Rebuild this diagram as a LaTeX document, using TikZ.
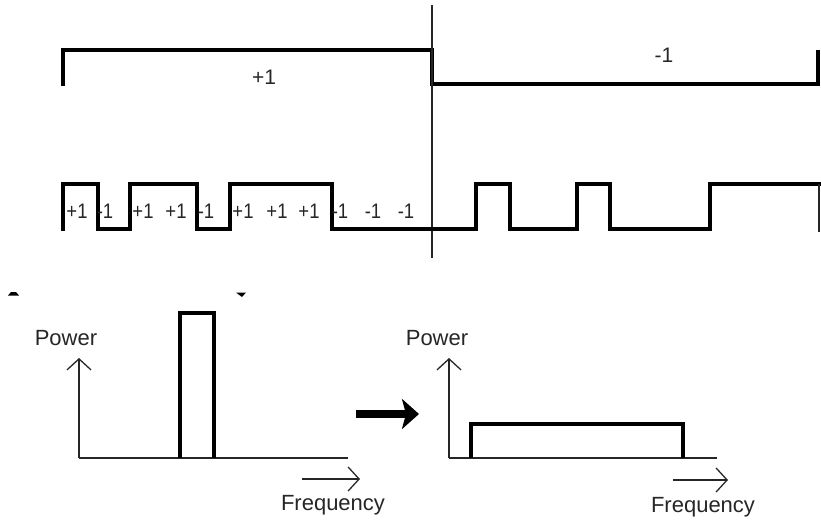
\documentclass[tikz,border=0pt]{standalone}
\usepackage{fontspec}
\setmainfont{Liberation Sans}
\usetikzlibrary{arrows.meta}
\definecolor{ink}{HTML}{262626}
\begin{document}
\begin{tikzpicture}[x=1pt,y=-1pt,
  wave/.style={line width=4pt, draw=black},
  thinline/.style={line width=1.3pt, draw=ink},
  axisarrow/.style={thinline, -{Straight Barb[length=11pt,width=24pt]}},
  bigarrow/.style={line width=8pt, draw=black, -{Stealth[length=17pt,width=30pt,inset=4pt]}},
  lbl/.style={font=\fontsize{21}{24}\selectfont, text=ink, inner sep=0pt},
  chip/.style={font=\fontsize{21}{24}\selectfont, text=ink, inner sep=0pt, xscale=0.88, transform shape},
  axlbl/.style={font=\fontsize{22}{26}\selectfont, text=ink, inner sep=0pt}]
\useasboundingbox (0,0) rectangle (821,525);

% ---- data bit waveform ----
\draw[wave] (63,86) -- (63,50) -- (432,50) -- (432,84) -- (818,84) -- (818,50);
\coordinate (divtop) at (432,5);
\coordinate (divbot) at (432,258);
\draw[thinline] (divtop) -- (divbot);
\node[lbl] (bitA) at (264,77) {+1};
\node[lbl] (bitB) at (664,55) {-1};

% ---- chip waveform ----
\draw[wave] (63,231) -- (63,184) -- (98,184) -- (98,229) -- (130,229) -- (130,184)
  -- (197,184) -- (197,229) -- (230,229) -- (230,184) -- (332,184) -- (332,229)
  -- (476,229) -- (476,184) -- (510,184) -- (510,229) -- (577,229) -- (577,184)
  -- (610,184) -- (610,229) -- (710,229) -- (710,184) -- (821,184);
\draw[thinline] (819,184) -- (819,232);

\foreach \x/\t [count=\i] in {77/+1,105/-1,143/+1,176/+1,206/-1,243/+1,277/+1,309/+1,340/-1,373/-1,406/-1}
  \node[chip] (c\i) at (\x,211) {\t};

% ---- small cropped marks ----
\fill[black] (8,295.5) -- (11,292) -- (16,292) -- (19,295.5) -- cycle;
\fill[black] (236,292.5) -- (246,292.5) -- (242,297) -- cycle;

% ---- left spectrum ----
\coordinate (Lo) at (79,458);
\coordinate (Ltop) at (79,358);
\coordinate (Lend) at (348,458);
\draw[axisarrow] (Lo) -- (Ltop);
\draw[thinline] (Lo) -- (Lend);
\draw[wave] (180,458) -- (180,313) -- (214,313) -- (214,458);
\coordinate (Lfa) at (302,479);
\coordinate (Lfb) at (360,479);
\draw[axisarrow] (Lfa) -- (Lfb);
\node[axlbl] (Lpow) at (66,338) {Power};
\node[axlbl] (Lfreq) at (333,505) {Frequency};

% ---- big arrow ----
\coordinate (ba) at (356,414);
\coordinate (bb) at (419,414);
\draw[bigarrow] (ba) -- (bb);

% ---- right spectrum ----
\coordinate (Ro) at (449,458);
\coordinate (Rtop) at (449,358);
\coordinate (Rend) at (717,458);
\draw[axisarrow] (Ro) -- (Rtop);
\draw[thinline] (Ro) -- (Rend);
\draw[wave] (471,458) -- (471,424) -- (683,424) -- (683,458);
\coordinate (Rfa) at (673,480);
\coordinate (Rfb) at (728,480);
\draw[axisarrow] (Rfa) -- (Rfb);
\node[axlbl] (Rpow) at (437,338) {Power};
\node[axlbl] (Rfreq) at (703,507) {Frequency};
\end{tikzpicture}
\end{document}
